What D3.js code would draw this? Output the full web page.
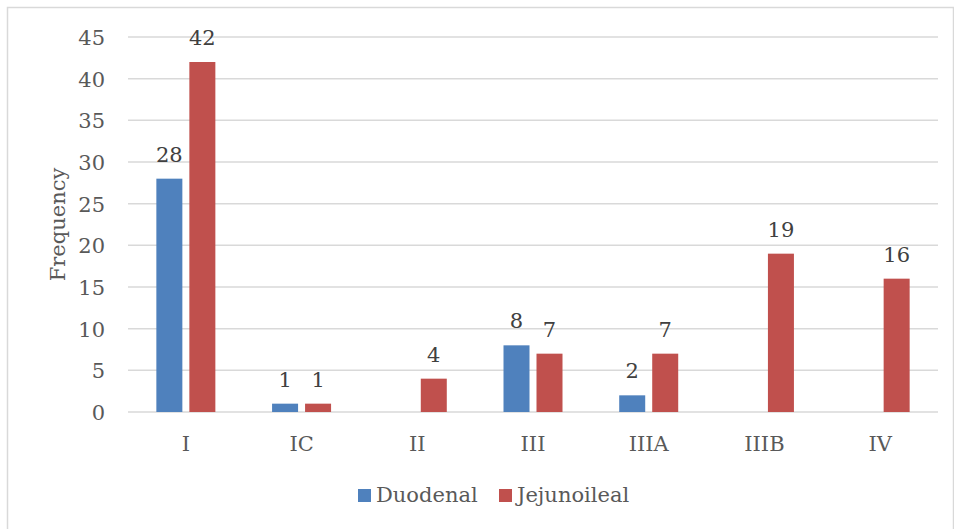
<!DOCTYPE html>
<html>
<head>
<meta charset="utf-8">
<script src="https://cdn.jsdelivr.net/npm/d3@7/dist/d3.min.js"></script>
<style>
  html, body { margin: 0; padding: 0; background: #fff; }
  svg { display: block; }
  text { font-family: "DejaVu Serif", serif; }
</style>
</head>
<body>
<script>
// Atresia type counts by location
const categories = ["I", "IC", "II", "III", "IIIA", "IIIB", "IV"];
const duodenal = [28, 1, 0, 8, 2, 0, 0];
const jejunoileal = [42, 1, 4, 7, 7, 19, 16];
const seriesNames = ["Duodenal", "Jejunoileal"];
const yTicks = [0, 5, 10, 15, 20, 25, 30, 35, 40, 45];

const W = 954, H = 529;
const FS = 21;
const colors = ["#4F81BD", "#C0504D"];
const plot = { left: 128, right: 938, top: 37, bottom: 412 };

const svg = d3.select("body").append("svg")
  .attr("width", W).attr("height", H);

// outer frame
svg.append("rect")
  .attr("x", 7.5).attr("y", 7.5)
  .attr("width", 946).attr("height", 526)
  .attr("fill", "#fff").attr("stroke", "#D9D9D9").attr("stroke-width", 1.5);

const x = d3.scaleBand().domain(categories).range([plot.left, plot.right]);
const y = d3.scaleLinear().domain([0, 45]).range([plot.bottom, plot.top]);

// gridlines
svg.append("g").selectAll("line").data(yTicks).join("line")
  .attr("x1", plot.left).attr("x2", plot.right)
  .attr("y1", d => y(d)).attr("y2", d => y(d))
  .attr("stroke", "#D9D9D9").attr("stroke-width", 1.5);

// y axis labels
const yAxis = d3.axisLeft(y).tickValues(yTicks).tickSize(0).tickPadding(0);
const gy = svg.append("g").attr("transform", `translate(${plot.left - 23},0)`).call(yAxis);
gy.select(".domain").remove();
gy.selectAll("text")
  .attr("fill", "#595959").attr("font-size", FS)
  .attr("font-family", "DejaVu Serif").attr("dy", "0.36em");

// x axis labels
const xAxis = d3.axisBottom(x).tickSize(0).tickPadding(0);
const gx = svg.append("g").attr("transform", `translate(0,${plot.bottom + 39})`).call(xAxis);
gx.select(".domain").remove();
gx.selectAll("text")
  .attr("fill", "#595959").attr("font-size", FS)
  .attr("font-family", "DejaVu Serif").attr("dy", 0);

// y axis title
svg.append("text")
  .attr("transform", `translate(65,${(plot.top + plot.bottom) / 2}) rotate(-90)`)
  .attr("text-anchor", "middle")
  .attr("fill", "#595959").attr("font-size", FS)
  .text("Frequency");

// bars
const barW = 26, gap = 7;
const series = [duodenal, jejunoileal];
const inner = d3.scaleOrdinal().domain([0, 1])
  .range([-(gap / 2 + barW), gap / 2]);

series.forEach((vals, si) => {
  const data = categories.map((c, i) => ({ c, v: vals[i] }));
  const g = svg.append("g");
  g.selectAll("rect").data(data.filter(d => d.v > 0)).join("rect")
    .attr("x", d => x(d.c) + x.bandwidth() / 2 + inner(si))
    .attr("y", d => y(d.v))
    .attr("width", barW)
    .attr("height", d => y(0) - y(d.v))
    .attr("fill", colors[si]);
  g.selectAll("text").data(data.filter(d => d.v > 0)).join("text")
    .attr("x", d => x(d.c) + x.bandwidth() / 2 + inner(si) + barW / 2)
    .attr("y", d => y(d.v) - 17)
    .attr("text-anchor", "middle")
    .attr("fill", "#404040").attr("font-size", FS)
    .text(d => d.v);
});

// legend
const legend = svg.append("g");
const legendX = [358, 499];
seriesNames.forEach((name, i) => {
  legend.append("rect")
    .attr("x", legendX[i]).attr("y", 489)
    .attr("width", 13).attr("height", 13)
    .attr("fill", colors[i]);
  legend.append("text")
    .attr("x", legendX[i] + 18).attr("y", 502)
    .attr("fill", "#595959").attr("font-size", FS)
    .text(name);
});
</script>
</body>
</html>
